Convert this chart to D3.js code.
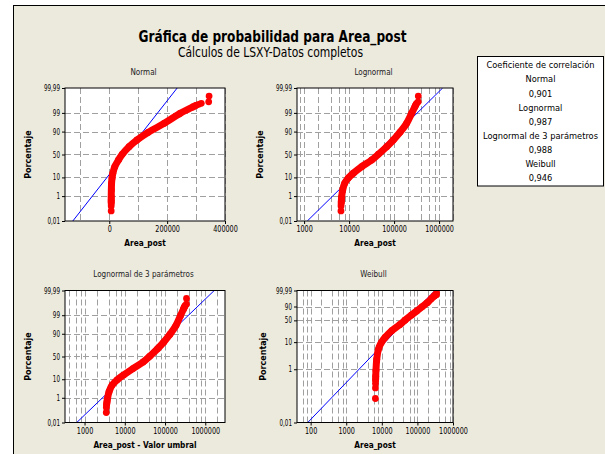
<!DOCTYPE html>
<html>
<head>
<meta charset="utf-8">
<script src="https://cdn.jsdelivr.net/npm/d3@7"></script>
<style>
  body { margin: 0; background: #fff; }
  svg { display: block; font-family: "DejaVu Sans", Verdana, sans-serif; }
</style>
</head>
<body>
<svg id="chart" width="605" height="454"></svg>
<script>
// Area_post values and their plotting percent
const areaPost = [6600, 6620, 6650, 6700, 6750, 6850, 7200, 7980, 9600, 12400, 19100, 31800,
  44600, 68500, 95900, 135000, 190000, 245000, 290000, 300000, 309000, 318000, 343600, 345000];
const percentRank = [0.08, 0.2, 0.29, 0.4, 0.55, 0.91, 2.36, 5.37, 9.44, 14.7, 24.8, 37.9,
  50.4, 66.9, 79.1, 89.3, 95.95, 98.93, 99.62, 99.7, 99.75, 99.79, 99.84, 99.946];
// first / last index of the dense part (drawn as a thick band)
const bodyFrom = 3, bodyTo = 19;
const threshold3p = 3131;

// fitted lines: x value at 0,01 % and at 99,99 %
const fitPercents = [0.01, 99.99];
const fitNormal = [-126000, 234700];
const fitLognormal = [1178, 1200000];
const fitLognormal3 = [642, 1670000];
const fitWeibull = [83, 310000];

const corrNames = ["Normal", "Lognormal", "Lognormal de 3 parámetros", "Weibull"];
const corrValues = ["0,901", "0,987", "0,988", "0,946"];

const yTickPercents = [0.01, 1, 10, 50, 90, 99, 99.99];
const yTickLabels = ["0,01", "1", "10", "50", "90", "99", "99,99"];
const wblTickPercents = [0.01, 1, 10, 50, 90, 99.99];
const wblTickLabels = ["0,01", "1", "10", "50", "90", "99,99"];
const yGridNormal = [1, 10, 50, 90, 99];
const yGridWeibull = [1, 10, 50, 90];

const normalXTicks = [0, 200000, 400000];
const normalXGrid = [-100000, 0, 100000, 200000, 300000, 400000];
const logXTicks = [1000, 10000, 100000, 1000000];
const wblXTicks = [100, 1000, 10000, 100000, 1000000];

// inverse normal cdf (Acklam)
function probit(p) {
  const a = [-39.69683028665376, 220.9460984245205, -275.9285104469687, 138.3577518672690, -30.66479806614716, 2.506628277459239];
  const b = [-54.47609879822406, 161.5858368580409, -155.6989798598866, 66.80131188771972, -13.28068155288572];
  const c = [-0.007784894002430293, -0.3223964580411365, -2.400758277161838, -2.549732539343734, 4.374664141464968, 2.938163982698783];
  const d = [0.007784695709041462, 0.3224671290700398, 2.445134137142996, 3.754408661907416];
  const pl = 0.02425;
  if (p < pl) {
    const q = Math.sqrt(-2 * Math.log(p));
    return (((((c[0]*q+c[1])*q+c[2])*q+c[3])*q+c[4])*q+c[5]) / ((((d[0]*q+d[1])*q+d[2])*q+d[3])*q+1);
  }
  if (p > 1 - pl) {
    const q = Math.sqrt(-2 * Math.log(1 - p));
    return -(((((c[0]*q+c[1])*q+c[2])*q+c[3])*q+c[4])*q+c[5]) / ((((d[0]*q+d[1])*q+d[2])*q+d[3])*q+1);
  }
  const q = p - 0.5, r = q * q;
  return (((((a[0]*r+a[1])*r+a[2])*r+a[3])*r+a[4])*r+a[5])*q / (((((b[0]*r+b[1])*r+b[2])*r+b[3])*r+b[4])*r+1);
}
const normT = p => probit(p / 100);
const wblT = p => Math.log(-Math.log(1 - p / 100));

// squeeze text horizontally (the original is narrower than our fonts)
function squeeze(sel, f, maxW) {
  sel.each(function () {
    let w = this.getComputedTextLength() * f;
    if (maxW && w > maxW) w = maxW;
    d3.select(this).attr("textLength", w).attr("lengthAdjust", "spacingAndGlyphs");
  });
}

const BG = "#ECE9DD";
const svg = d3.select("#chart");

// outer frame
svg.append("rect")
  .attr("x", 13.5).attr("y", 5.5).attr("width", 700).attr("height", 600)
  .attr("fill", BG).attr("stroke", "#000").attr("stroke-width", 1);

// titles
svg.append("text").attr("x", 272.5).attr("y", 41.7)
  .attr("text-anchor", "middle").attr("font-size", 15).attr("font-weight", "bold")
  .attr("fill", "#000").text("Gráfica de probabilidad para Area_post")
  .attr("textLength", 268).attr("lengthAdjust", "spacingAndGlyphs");
svg.append("text").attr("x", 270.5).attr("y", 57.3)
  .attr("text-anchor", "middle").attr("font-size", 13.6)
  .attr("fill", "#000").text("Cálculos de LSXY-Datos completos")
  .attr("textLength", 185).attr("lengthAdjust", "spacingAndGlyphs");

const logGrid = domain => {
  const out = [];
  for (let e = 0; e <= 7; e++) {
    [1, 2, 4, 6, 8].forEach(k => {
      const v = k * Math.pow(10, e);
      if (v > domain[0] && v <= domain[1] * 1.001) out.push(v);
    });
  }
  return out;
};

const panels = [
  { title: "Normal", x0: 65, x1: 225, y0: 88, y1: 221, log: false, xDomain: [-153000, 400000],
    tr: normT, shift: 0, xTicks: normalXTicks, xGrid: normalXGrid, fit: fitNormal,
    yTicks: yTickPercents, yLabels: yTickLabels, yGrid: yGridNormal, xLabel: "Area_post", ylx: 28 },
  { title: "Lognormal", x0: 297, x1: 453, y0: 88, y1: 221, log: true, xDomain: [695, 2040000],
    tr: normT, shift: 0, xTicks: logXTicks, fit: fitLognormal,
    yTicks: yTickPercents, yLabels: yTickLabels, yGrid: yGridNormal, xLabel: "Area_post", ylx: 260 },
  { title: "Lognormal de 3 parámetros", x0: 65, x1: 225, y0: 290.5, y1: 422.5, log: true, xDomain: [327, 3090000],
    tr: normT, shift: threshold3p, xTicks: logXTicks, fit: fitLognormal3,
    yTicks: yTickPercents, yLabels: yTickLabels, yGrid: yGridNormal, xLabel: "Area_post - Valor umbral", ylx: 28 },
  { title: "Weibull", x0: 297, x1: 453, y0: 290.5, y1: 422.5, log: true, xDomain: [41.4, 1000000],
    tr: wblT, shift: 0, xTicks: wblXTicks, fit: fitWeibull,
    yTicks: wblTickPercents, yLabels: wblTickLabels, yGrid: yGridWeibull, xLabel: "Area_post", ylx: 263 }
];

panels.forEach((pn, i) => {
  const g = svg.append("g");
  const x = (pn.log ? d3.scaleLog() : d3.scaleLinear()).domain(pn.xDomain).range([pn.x0, pn.x1]);
  const yLin = d3.scaleLinear().domain([pn.tr(0.01), pn.tr(99.99)]).range([pn.y1, pn.y0]);
  const y = p => yLin(pn.tr(p));
  const w = pn.x1 - pn.x0, h = pn.y1 - pn.y0;

  g.append("rect").attr("x", pn.x0).attr("y", pn.y0).attr("width", w).attr("height", h).attr("fill", "#fff");

  // grid
  const xGrid = pn.log ? logGrid(pn.xDomain) : pn.xGrid;
  g.append("g").selectAll("line").data(xGrid).join("line")
    .attr("x1", d => Math.round(x(d)) + 0.5).attr("x2", d => Math.round(x(d)) + 0.5)
    .attr("y1", pn.y0).attr("y2", pn.y1)
    .attr("stroke", "#a0a0a0").attr("stroke-width", 1).attr("stroke-dasharray", "6,3");
  g.append("g").selectAll("line").data(pn.yGrid).join("line")
    .attr("x1", pn.x0).attr("x2", pn.x1)
    .attr("y1", d => Math.round(y(d)) + 0.5).attr("y2", d => Math.round(y(d)) + 0.5)
    .attr("stroke", "#a0a0a0").attr("stroke-width", 1).attr("stroke-dasharray", "6,3");

  const clipId = "clip" + i;
  svg.append("clipPath").attr("id", clipId).append("rect")
    .attr("x", pn.x0).attr("y", pn.y0).attr("width", w).attr("height", h);
  const plot = g.append("g").attr("clip-path", `url(#${clipId})`);

  // fitted line
  plot.append("line")
    .attr("x1", x(pn.fit[0])).attr("y1", y(fitPercents[0]))
    .attr("x2", x(pn.fit[1])).attr("y2", y(fitPercents[1]))
    .attr("stroke", "#0000ff").attr("stroke-width", 1);

  // points
  const pts = areaPost.map((v, k) => ({ v: v - pn.shift, p: percentRank[k] }));
  const band = d3.line().x(d => x(d.v)).y(d => y(d.p)).curve(d3.curveCatmullRom.alpha(0.5));
  plot.append("path").datum(pts.slice(bodyFrom, bodyTo + 1))
    .attr("d", band).attr("fill", "none").attr("stroke", "#ff0000")
    .attr("stroke-width", 7).attr("stroke-linecap", "round").attr("stroke-linejoin", "round");
  plot.selectAll("circle").data(pts).join("circle")
    .attr("cx", d => x(d.v)).attr("cy", d => y(d.p)).attr("r", 3.4).attr("fill", "#ff0000");

  // frame
  g.append("rect").attr("x", pn.x0).attr("y", pn.y0).attr("width", w).attr("height", h)
    .attr("fill", "none").attr("stroke", "#000").attr("stroke-width", 1);

  // axes
  const yAxis = g.append("g").attr("transform", `translate(${pn.x0},0)`)
    .call(d3.axisLeft(yLin).tickValues(pn.yTicks.map(pn.tr))
      .tickFormat((d, k) => pn.yLabels[k]).tickSize(3).tickPadding(2));
  yAxis.select(".domain").remove();
  yAxis.selectAll("line").attr("stroke", "#000");
  yAxis.selectAll("text").attr("font-family", "DejaVu Sans").attr("font-size", 8).attr("fill", "#000");
  squeeze(yAxis.selectAll("text"), 0.7);

  const xAxis = g.append("g").attr("transform", `translate(0,${pn.y1})`)
    .call(d3.axisBottom(x).tickValues(pn.xTicks).tickFormat(d3.format("d")).tickSize(3).tickPadding(2));
  xAxis.select(".domain").remove();
  xAxis.selectAll("line").attr("stroke", "#000");
  xAxis.selectAll("text").attr("font-family", "DejaVu Sans").attr("font-size", 8.5).attr("fill", "#000");
  squeeze(xAxis.selectAll("text"), 0.76);

  // panel title
  const t = g.append("text").attr("x", (pn.x0 + pn.x1) / 2 - 1.5).attr("y", pn.y0 - 13.2)
    .attr("text-anchor", "middle").attr("font-size", 8.5).attr("fill", "#222").text(pn.title);
  squeeze(t, 0.85);

  // axis labels
  const xl = g.append("text").attr("x", (pn.x0 + pn.x1) / 2).attr("y", pn.y1 + 25.3)
    .attr("text-anchor", "middle").attr("font-size", 8.5).attr("font-weight", "bold")
    .attr("fill", "#000").text(pn.xLabel);
  squeeze(xl, 0.87);
  const yl = g.append("text")
    .attr("transform", `translate(${pn.ylx + 3},${(pn.y0 + pn.y1) / 2}) rotate(-90)`)
    .attr("text-anchor", "middle").attr("font-size", 8.5).attr("font-weight", "bold")
    .attr("fill", "#000").text("Porcentaje");
  squeeze(yl, 0.94);
});

// correlation box
const box = svg.append("g");
box.append("rect").attr("x", 477.5).attr("y", 56.5).attr("width", 126).attr("height", 129.5)
  .attr("fill", "#fff").attr("stroke", "#000").attr("stroke-width", 1);
const lines = ["Coeficiente de correlación"];
corrNames.forEach((n, k) => { lines.push(n); lines.push(corrValues[k]); });
const lt = box.selectAll("text").data(lines).join("text")
  .attr("x", 540.5).attr("y", (d, k) => 68.3 + k * 14.1)
  .attr("text-anchor", "middle").attr("font-size", 8.8).attr("fill", "#000")
  .text(d => d);
squeeze(lt, 0.94, 115);
</script>
</body>
</html>
